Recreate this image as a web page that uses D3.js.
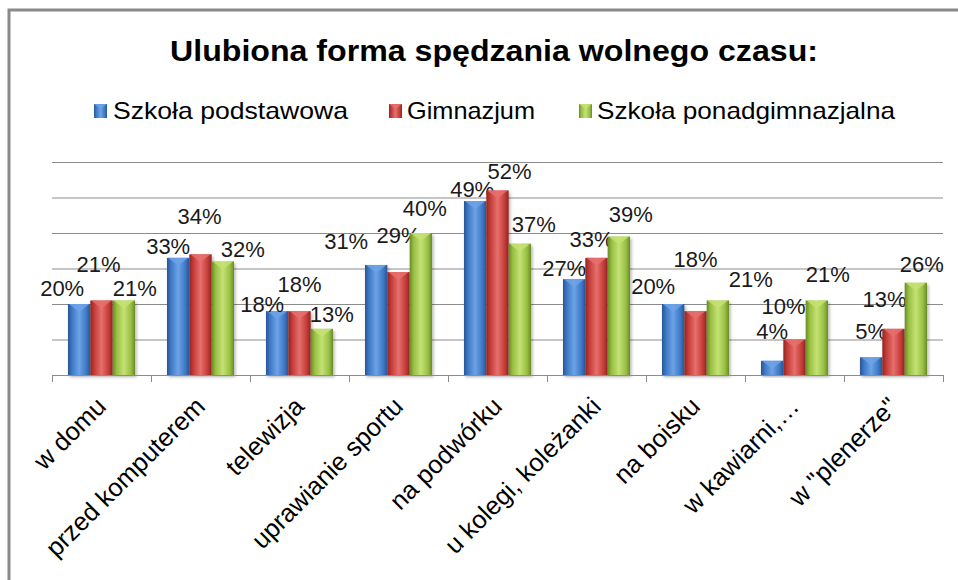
<!DOCTYPE html>
<html>
<head>
<meta charset="utf-8">
<script src="https://cdn.jsdelivr.net/npm/d3@7"></script>
<style>
  html, body { margin: 0; padding: 0; background: #fff; }
  svg { display: block; }
</style>
</head>
<body>
<div id="chart"></div>
<script>
// chart data
const categories = ["w domu", "przed komputerem", "telewizja", "uprawianie sportu", "na podwórku",
  "u kolegi, koleżanki", "na boisku", "w kawiarni,…", "w \"plenerze\""];
const seriesNames = ["Szkoła podstawowa", "Gimnazjum", "Szkoła ponadgimnazjalna"];
const podstawowa = [20, 33, 18, 31, 49, 27, 20, 4, 5];
const gimnazjum = [21, 34, 18, 29, 52, 33, 18, 10, 13];
const ponadgimnazjalna = [21, 32, 13, 40, 37, 39, 21, 21, 26];
const yTicks = [0, 10, 20, 30, 40, 50, 60];

const seriesValues = [podstawowa, gimnazjum, ponadgimnazjalna];

const width = 958, height = 580;
const plot = { left: 52, right: 943, top: 162, bottom: 375 };

// colours for each series: dark edge, main, light
const palette = [
  { dark: "#2a5594", main: "#3d79c6", light: "#6da2e6" },
  { dark: "#8f2624", main: "#c63b38", light: "#e5706c" },
  { dark: "#6a8a26", main: "#98bf42", light: "#c4e274" }
];
// Excel nudged each value label by hand; offsets of the label centre from the bar top centre
const labelNudge = [
  [[-17, -16], [-10, -11], [-15, -7], [-30, -23], [-3, -12], [-10, -11], [-20, -18], [0, -29], [0, -26]],
  [[-3, -36], [-1, -38], [0, -27], [0, -37], [12, -19], [-5, -18], [0, -52], [-11, -33], [-9, -29]],
  [[11, -12], [20, -12], [10, -14], [4, -25], [14, -19], [12, -22], [33, -21], [11, -26], [6, -18]]
];

const svg = d3.select('#chart')
  .append('svg')
  .attr('width', width)
  .attr('height', height);

const defs = svg.append('defs');
palette.forEach((c, i) => {
  const g = defs.append('linearGradient')
    .attr('id', 'bar' + i)
    .attr('x1', '0%').attr('x2', '100%').attr('y1', '0%').attr('y2', '0%');
  g.append('stop').attr('offset', '0%').attr('stop-color', c.dark);
  g.append('stop').attr('offset', '18%').attr('stop-color', c.main);
  g.append('stop').attr('offset', '50%').attr('stop-color', c.light);
  g.append('stop').attr('offset', '82%').attr('stop-color', c.main);
  g.append('stop').attr('offset', '100%').attr('stop-color', c.dark);
});
defs.append('filter').attr('id', 'shadow')
  .attr('x', '-20%').attr('y', '-10%').attr('width', '150%').attr('height', '130%')
  .append('feDropShadow')
  .attr('dx', 1.5).attr('dy', 2).attr('stdDeviation', 1.5)
  .attr('flood-color', '#000').attr('flood-opacity', 0.3);

// outer frame (only top and left edges show in the picture)
svg.append('path')
  .attr('d', `M9,${height} V10 H${width}`)
  .attr('fill', 'none')
  .attr('stroke', '#8a8a8a')
  .attr('stroke-width', 3);

// title
svg.append('text')
  .attr('x', 494).attr('y', 61)
  .attr('text-anchor', 'middle')
  .attr('font-family', 'Liberation Sans, Arial, sans-serif')
  .attr('font-weight', 'bold')
  .attr('font-size', 29)
  .attr('textLength', 648)
  .attr('lengthAdjust', 'spacingAndGlyphs')
  .attr('fill', '#000')
  .text('Ulubiona forma spędzania wolnego czasu:');

// legend
const legendItems = [
  { x: 94, textX: 113, textW: 235 },
  { x: 389, textX: 407, textW: 128 },
  { x: 579, textX: 597, textW: 298 }
];
const legend = svg.append('g').attr('class', 'legend');
seriesNames.forEach((name, i) => {
  const it = legendItems[i];
  legend.append('rect')
    .attr('x', it.x).attr('y', 104)
    .attr('width', 13).attr('height', 14)
    .attr('fill', `url(#bar${i})`);
  legend.append('path')
    .attr('d', `M${it.x},104 h13 l-6.5,5 z`)
    .attr('fill', palette[i].light).attr('opacity', 0.8);
  legend.append('text')
    .attr('x', it.textX).attr('y', 119)
    .attr('font-family', 'Liberation Sans, Arial, sans-serif')
    .attr('font-size', 24)
    .attr('textLength', it.textW)
    .attr('lengthAdjust', 'spacingAndGlyphs')
    .attr('fill', '#000')
    .text(name);
});

// scales
const x = d3.scaleBand()
  .domain(categories)
  .range([plot.left, plot.right])
  .paddingInner(0.323)
  .paddingOuter(0.1615);

const xs = d3.scaleBand()
  .domain(d3.range(seriesNames.length))
  .range([0, x.bandwidth()]);

const y = d3.scaleLinear()
  .domain([0, 60])
  .range([plot.bottom, plot.top]);

// gridlines
svg.append('g')
  .selectAll('line')
  .data(yTicks.filter(t => t > 0))
  .enter()
  .append('line')
  .attr('x1', plot.left).attr('x2', plot.right)
  .attr('y1', d => y(d) + 0.5).attr('y2', d => y(d) + 0.5)
  .attr('stroke', '#8c8c8c')
  .attr('stroke-width', 1);

// bars
const groups = svg.append('g')
  .selectAll('.grp')
  .data(categories)
  .enter()
  .append('g')
  .attr('class', 'grp')
  .attr('transform', d => `translate(${x(d)},0)`);

const bars = groups.selectAll('.bar')
  .data((d, ci) => seriesValues.map((vals, si) => ({ si: si, ci: ci, v: vals[ci] })))
  .enter()
  .append('g')
  .attr('class', 'bar');

bars.append('rect')
  .attr('x', d => xs(d.si))
  .attr('y', d => y(d.v))
  .attr('width', xs.bandwidth())
  .attr('height', d => y(0) - y(d.v))
  .attr('fill', d => `url(#bar${d.si})`)
  .attr('filter', 'url(#shadow)');

// bevel highlight on top of each bar
bars.append('path')
  .attr('d', d => {
    const x0 = xs(d.si), w = xs.bandwidth(), t = y(d.v);
    return `M${x0 + 1},${t} h${w - 2} l${-(w - 2) / 2},${Math.min(8, y(0) - t)} z`;
  })
  .attr('fill', d => palette[d.si].light)
  .attr('opacity', 0.85);

// x axis
const xAxis = svg.append('g');
xAxis.append('line')
  .attr('x1', plot.left).attr('x2', plot.right)
  .attr('y1', plot.bottom + 0.5).attr('y2', plot.bottom + 0.5)
  .attr('stroke', '#8c8c8c');
const tickPos = categories.map(c => x(c) - x.step() * x.paddingInner() / 2).concat([plot.right]);
xAxis.selectAll('.tick')
  .data(tickPos)
  .enter()
  .append('line')
  .attr('x1', d => Math.round(d) + 0.5).attr('x2', d => Math.round(d) + 0.5)
  .attr('y1', plot.bottom).attr('y2', plot.bottom + 7)
  .attr('stroke', '#8c8c8c');

xAxis.selectAll('.cat')
  .data(categories)
  .enter()
  .append('text')
  .attr('class', 'cat')
  .attr('transform', d => `translate(${x(d) + x.bandwidth() / 2 + 6},${plot.bottom + 33}) rotate(-45)`)
  .attr('text-anchor', 'end')
  .attr('font-family', 'Liberation Sans, Arial, sans-serif')
  .attr('font-size', 25.5)
  .attr('fill', '#000')
  .text(d => d);

// value labels
bars.append('text')
  .attr('x', d => xs(d.si) + xs.bandwidth() / 2 + labelNudge[d.si][d.ci][0])
  .attr('y', d => y(d.v) + labelNudge[d.si][d.ci][1])
  .attr('text-anchor', 'middle')
  .attr('dominant-baseline', 'central')
  .attr('font-family', 'Liberation Sans, Arial, sans-serif')
  .attr('font-size', 22)
  .attr('fill', '#1a1a1a')
  .text(d => d.v + '%');
</script>
</body>
</html>
